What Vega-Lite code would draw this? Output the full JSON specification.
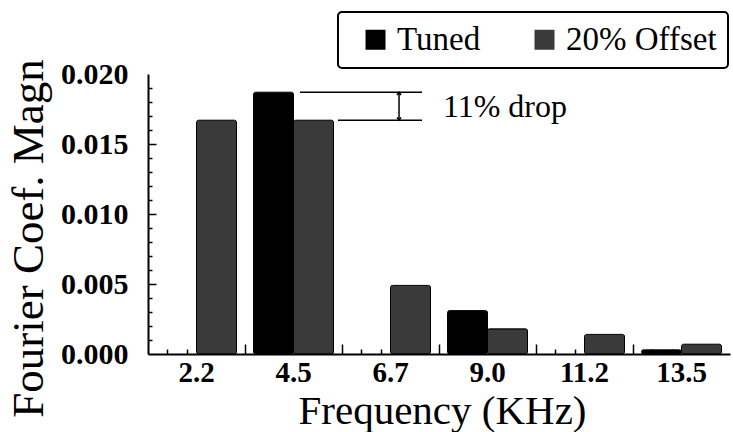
{
  "$schema": "https://vega.github.io/schema/vega-lite/v6.json",
  "width": 582,
  "height": 280,
  "autosize": {"type": "none"},
  "padding": {"left": 148, "top": 74, "right": 3, "bottom": 78},
  "background": "white",
  "config": {"view": {"stroke": null}, "font": "Liberation Serif", "legend": {"strokeWidth": 2}},
  "layer": [
    {
      "data": {"values": [
        {"freq": "2.2", "series": "20% Offset", "value": 0.0167},
        {"freq": "4.5", "series": "Tuned", "value": 0.0187},
        {"freq": "4.5", "series": "20% Offset", "value": 0.0167},
        {"freq": "6.7", "series": "20% Offset", "value": 0.0049},
        {"freq": "9.0", "series": "Tuned", "value": 0.0031},
        {"freq": "9.0", "series": "20% Offset", "value": 0.0018},
        {"freq": "11.2", "series": "20% Offset", "value": 0.0014},
        {"freq": "13.5", "series": "Tuned", "value": 0.0003},
        {"freq": "13.5", "series": "20% Offset", "value": 0.0007}
      ]},
      "mark": {"type": "bar", "stroke": "black", "strokeWidth": 1, "cornerRadius": 2},
      "encoding": {
        "x": {
          "field": "freq", "type": "nominal", "sort": null,
          "scale": {"domain": ["2.2", "4.5", "6.7", "9.0", "11.2", "13.5"], "paddingInner": 0.175, "paddingOuter": 0.0875},
          "axis": {
            "title": "Frequency (KHz)", "titleFont": "Liberation Serif", "titleFontSize": 41, "titleFontWeight": "normal", "titleColor": "black",
            "titleX": 294, "titleY": 69, "titleAlign": "center", "titleBaseline": "alphabetic",
            "domain": true, "domainColor": "black", "domainWidth": 2, "ticks": false, "labelAngle": 0, "labelFont": "Liberation Serif", "labelFontSize": 29,
            "labelFontWeight": "bold", "labelColor": "black", "labelPadding": 4, "grid": false
          }
        },
        "xOffset": {"field": "series", "type": "nominal", "scale": {"domain": ["Tuned", "20% Offset"], "paddingInner": 0, "paddingOuter": 0}},
        "y": {
          "field": "value", "type": "quantitative", "title": "Fourier Coef. Magn",
          "scale": {"domain": [0, 0.02], "nice": false},
          "axis": {
            "orient": "left",
            "titleFont": "Liberation Serif", "titleFontSize": 45, "titleFontWeight": "normal", "titleColor": "black",
            "titleAngle": -90, "titleX": -106, "titleY": 164, "titleAlign": "center", "titleBaseline": "alphabetic",
            "values": [0, 0.005, 0.01, 0.015, 0.02],
            "format": ".3f",
            "labelOverlap": false, "labelFont": "Liberation Serif", "labelFontSize": 30, "labelFontWeight": "bold", "labelColor": "black",
            "labelPadding": 20, "ticks": false,
            "domainColor": "black", "domainWidth": 2, "grid": false
          }
        },
        "color": {
          "field": "series", "type": "nominal",
          "scale": {"domain": ["Tuned", "20% Offset"], "range": ["#000000", "#3a3a3a"]},
          "legend": {
            "title": null, "orient": "none", "legendX": 190, "legendY": -62, "direction": "horizontal",
            "labelFont": "Liberation Serif", "labelFontSize": 33, "labelColor": "black",
            "symbolType": "square", "symbolSize": 400, "symbolStrokeWidth": 0, "symbolOffset": 10,
            "labelOffset": 5, "columnPadding": 37, "padding": 11,
            "strokeColor": "black", "fillColor": "white", "cornerRadius": 4
          }
        }
      }
    },
    {
      "layer": [
        {
          "data": {"values": [
            {"x1": 1.567, "x2": 2.825, "value": 0.0187, "value2": 0.0187},
            {"x1": 1.959, "x2": 2.825, "value": 0.0167, "value2": 0.0167},
            {"x1": 2.588, "x2": 2.588, "value": 0.0167, "value2": 0.0187}
          ]},
          "mark": {"type": "rule", "stroke": "black", "strokeWidth": 1.5},
          "encoding": {
            "x": {
              "field": "x1", "type": "quantitative", "title": null,
              "scale": {"domain": [0, 6], "nice": false, "zero": false},
              "axis": {
                "orient": "bottom", "title": null, "labels": false, "domain": false, "offset": -5,
                "values": [0.2, 0.4, 0.6, 0.8, 1.2, 1.4, 1.6, 1.8, 2.2, 2.4, 2.6, 2.8, 3.2, 3.4, 3.6, 3.8, 4.2, 4.4, 4.6, 4.8, 5.2, 5.4, 5.6, 5.8],
                "tickSize": 5, "tickColor": "black", "tickWidth": 1.5, "grid": false
              }
            },
            "x2": {"field": "x2"},
            "y": {
              "field": "value", "type": "quantitative", "title": null,
              "scale": {"domain": [0, 0.02], "nice": false},
              "axis": {
                "orient": "left", "title": null, "labels": false, "domain": false, "offset": -4,
                "values": [0.001, 0.002, 0.003, 0.004, 0.006, 0.007, 0.008, 0.009, 0.011, 0.012, 0.013, 0.014, 0.016, 0.017, 0.018, 0.019],
                "tickSize": 4, "tickColor": "black", "tickWidth": 1.5, "grid": false
              }
            },
            "y2": {"field": "value2"}
          }
        },
        {
          "data": {"values": [
            {"x1": 2.588, "value": 0.0187, "dir": "up"},
            {"x1": 2.588, "value": 0.0167, "dir": "down"}
          ]},
          "mark": {"type": "point", "filled": false, "stroke": "black", "strokeWidth": 1.5, "size": 64, "opacity": 1},
          "encoding": {
            "x": {
              "field": "x1", "type": "quantitative", "title": null,
              "scale": {"domain": [0, 6], "nice": false, "zero": false},
              "axis": {
                "orient": "bottom", "title": null, "labels": false, "domain": false, "offset": -10,
                "values": [1, 2, 3, 4, 5],
                "tickSize": 10, "tickColor": "black", "tickWidth": 1.5, "grid": false
              }
            },
            "y": {
              "field": "value", "type": "quantitative", "title": null,
              "scale": {"domain": [0, 0.02], "nice": false},
              "axis": {
                "orient": "left", "title": null, "labels": false, "domain": false, "offset": -8,
                "values": [0.005, 0.01, 0.015],
                "tickSize": 8, "tickColor": "black", "tickWidth": 1.5, "grid": false
              }
            },
            "shape": {
              "field": "dir", "type": "nominal", "legend": null,
              "scale": {"domain": ["up", "down"], "range": ["M-0.5,0.7L0,0L0.5,0.7", "M-0.5,-0.7L0,0L0.5,-0.7"]}
            }
          }
        },
        {
          "data": {"values": [{"x1": 3.04, "value": 0.0169, "label": "11% drop"}]},
          "mark": {"type": "text", "align": "left", "baseline": "alphabetic", "font": "Liberation Serif", "fontSize": 32, "color": "black"},
          "encoding": {
            "x": {"field": "x1", "type": "quantitative", "title": null, "scale": {"domain": [0, 6], "nice": false, "zero": false}, "axis": null},
            "y": {"field": "value", "type": "quantitative", "title": null, "scale": {"domain": [0, 0.02], "nice": false}, "axis": null},
            "text": {"field": "label"}
          }
        }
      ],
      "resolve": {"scale": {"x": "independent", "y": "independent"}, "axis": {"x": "independent", "y": "independent"}}
    }
  ],
  "resolve": {"scale": {"x": "independent", "y": "independent"}, "axis": {"x": "independent", "y": "independent"}}
}
